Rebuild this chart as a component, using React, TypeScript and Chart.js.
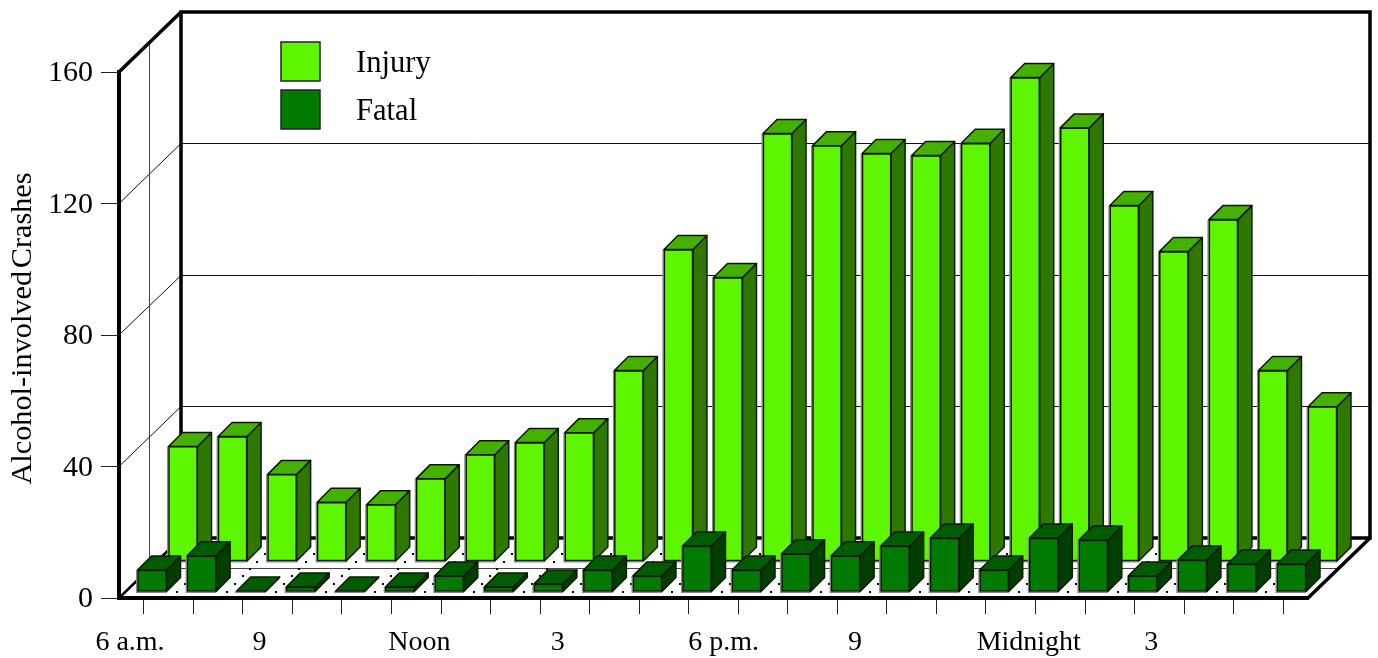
import React, { useEffect, useRef } from "react";
import { Chart, registerables } from "chart.js";

Chart.register(...registerables);

const hours = ["6 a.m.","7","8","9","10","11","Noon","1","2","3","4","5","6 p.m.","7 p.m.","8 p.m.","9 p.m.","10 p.m.","11 p.m.","Midnight","1 a.m.","2 a.m.","3 a.m.","4 a.m.","5 a.m."];
const tickLabels = ["6 a.m.","","","9","","","Noon","","","3","","","6 p.m.","","","9","","","Midnight","","","3","",""];
const injury = [35,38,26.5,18,17.3,25.2,32.5,36.2,39.2,58.1,94.9,86.4,130.2,126.5,124.1,123.5,127.2,147.2,131.9,108.3,94.3,104,58.1,47.1];
const fatal = [6.7,11,0.3,1.5,0.3,1.5,4.9,1.5,2.4,6.7,4.9,14,6.7,11.6,11,14,16.4,6.7,16.4,15.8,4.9,9.7,8.5,8.5];
const yTitle = "Alcohol-involved Crashes";

const FONT = "'Liberation Serif'";
const DEPTH = { x: 62, y: 60 };
const BAR_DEPTH = 14;
const LAYERS = [
  { dx: 39.25, dy: -36.5, top: "#44b000", side: "#2f7800" },
  { dx: 8.25, dy: -6, top: "#005c00", side: "#003e00" },
];
const LABEL_NUDGE: Record<number, number> = { 0: -13.75, 3: -33, 6: -21.75, 9: -32, 12: -14.75, 15: -32, 18: -6.75, 21: -33 };

const line = (ctx: CanvasRenderingContext2D, pts: number[][], width: number, color = "#000") => {
  ctx.beginPath();
  pts.forEach((p, i) => (i ? ctx.lineTo(p[0], p[1]) : ctx.moveTo(p[0], p[1])));
  ctx.lineWidth = width;
  ctx.strokeStyle = color;
  ctx.stroke();
};

const poly = (ctx: CanvasRenderingContext2D, pts: number[][], fill: string) => {
  ctx.beginPath();
  pts.forEach((p, i) => (i ? ctx.lineTo(p[0], p[1]) : ctx.moveTo(p[0], p[1])));
  ctx.closePath();
  ctx.fillStyle = fill;
  ctx.fill();
  ctx.lineWidth = 1.5;
  ctx.strokeStyle = "#0a1a00";
  ctx.lineJoin = "round";
  ctx.stroke();
};

const threeD = {
  id: "threeD",
  beforeDraw(chart: any) {
    if (chart.$nudged) return;
    chart.$nudged = true;
    chart.scales.x.getLabelItems(chart.chartArea).forEach((it: any, i: number) => {
      it.options.translation[0] += LABEL_NUDGE[i] || 0;
    });
    chart.scales.y.getLabelItems(chart.chartArea).forEach((it: any) => {
      it.options.translation[1] += 1.5;
    });
  },
  beforeDatasetsDraw(chart: any) {
    const { ctx, chartArea: a, scales } = chart;
    const { x: dx, y: dy } = DEPTH;
    const L = a.left, R = a.right, B = a.bottom, T = a.top;
    ctx.save();
    // left wall and back wall rules
    scales.y.ticks.forEach((t: any) => {
      if (t.value === 0 || t.value === scales.y.max) return;
      const py = scales.y.getPixelForValue(t.value);
      const by = Math.floor(py - dy) + 0.5;
      line(ctx, [[L, py], [L + dx, by], [R + dx, by]], 1, "#111");
    });
    // mid-depth rules
    const mx = L + dx / 2 - 0.5;
    line(ctx, [[mx, T - dy / 2], [mx, B - dy / 2 + 0.5], [R + dx / 2, B - dy / 2 + 0.5]], 1, "#444");
    // floor dots
    ctx.fillStyle = "#000";
    [591, 583, 575, 568, 561, 553, 545].forEach((y) => {
      for (let x = 176 + (591 - y); x < 1290; x += 49.5) ctx.fillRect(Math.round(x), y, 2, 2);
    });
    // frame
    line(ctx, [[L, B], [L + dx, B - dy]], 2.5);
    line(ctx, [[L, T], [L + dx, T - dy]], 3.5);
    line(ctx, [[L + dx, B - dy], [L + dx, T - dy], [R + dx, T - dy], [R + dx, B - dy], [L + dx, B - dy]], 3.5);
    line(ctx, [[R, B], [R + dx, B - dy]], 3.5);
    ctx.restore();
    // legend
    ctx.save();
    chart.data.datasets.forEach((ds: any, i: number) => {
      const y = 42 + i * 48;
      ctx.fillStyle = ds.backgroundColor;
      ctx.fillRect(281, y, 39, 39);
      ctx.lineWidth = 1.5;
      ctx.strokeStyle = "#222";
      ctx.strokeRect(281, y, 39, 39);
      ctx.fillStyle = "#000";
      ctx.font = `30.6px ${FONT}`;
      ctx.textBaseline = "alphabetic";
      ctx.fillText(ds.label, 356, y + 30);
    });
    ctx.restore();
  },
  beforeDatasetDraw(chart: any, args: any) {
    const { ctx } = chart;
    const layer = LAYERS[args.index];
    ctx.save();
    ctx.translate(layer.dx, layer.dy);
    const d = BAR_DEPTH;
    args.meta.data.forEach((el: any) => {
      const { x, y, base, width } = el.getProps(["x", "y", "base", "width"], true);
      const l = x - width / 2, r = x + width / 2;
      // soft edge on the left and below the front face
      ctx.fillStyle = "#888";
      ctx.fillRect(l - 1.5, y, width + 1.5, base - y + 1.5);
      poly(ctx, [[r, y], [r + d, y - d], [r + d, base - d], [r, base]], layer.side);
      poly(ctx, [[l, y], [l + d, y - d], [r + d, y - d], [r, y]], layer.top);
    });
  },
  afterDatasetDraw(chart: any) {
    chart.ctx.restore();
  },
};

export default function App() {
  const ref = useRef<HTMLCanvasElement>(null);
  useEffect(() => {
    const chart = new Chart(ref.current!, {
      type: "bar",
      data: {
        labels: hours,
        datasets: [
          { label: "Injury", data: injury, backgroundColor: "#5ef500", borderColor: "#0a1a00", borderWidth: 1.5, borderSkipped: false, barThickness: 29, grouped: false, order: 2, clip: false },
          { label: "Fatal", data: fatal, backgroundColor: "#007a00", borderColor: "#0a1a00", borderWidth: 1.5, borderSkipped: false, barThickness: 29, grouped: false, order: 1, clip: false },
        ],
      } as any,
      options: {
        responsive: false,
        animation: false,
        events: [],
        layout: { padding: { left: 0, top: 72, right: 70, bottom: 0 } },
        plugins: { legend: { display: false }, tooltip: { enabled: false } },
        scales: {
          x: {
            type: "category",
            afterFit(s: any) { s.height = 60; },
            grid: { offset: false, drawOnChartArea: false, tickLength: 16, color: "#222", lineWidth: 1 },
            border: { display: true, width: 4, color: "#000" },
            ticks: {
              autoSkip: false, maxRotation: 0, minRotation: 0, padding: 12,
              color: "#000", font: { family: FONT, size: 28 },
              callback: (_v: any, i: number) => tickLabels[i],
            },
          },
          y: {
            min: 0, max: 160,
            afterFit(s: any) {
              s.width = 119;
              if (!s.$wrapped) {
                s.$wrapped = true;
                const orig = s.drawTitle;
                s.drawTitle = function (...a: any[]) {
                  const c = s.ctx;
                  c.save();
                  c.wordSpacing = "-5px";
                  c.translate(0, -6.5);
                  orig.apply(s, a);
                  c.restore();
                };
              }
            },
            grid: { drawOnChartArea: false, tickLength: 18, color: "#222", lineWidth: 1 },
            border: { display: true, width: 4, color: "#000" },
            ticks: { stepSize: 40, padding: 8, color: "#000", font: { family: FONT, size: 30 } },
            title: { display: true, text: yTitle, color: "#000", font: { family: FONT, size: 30.3 }, padding: { top: 5, bottom: 0 } },
          },
        },
      } as any,
      plugins: [threeD],
    });
    return () => chart.destroy();
  }, []);
  return (
    <div style={{ position: "absolute", left: 0, top: 0, width: 1378, height: 658, background: "#fff" }}>
      <canvas ref={ref} width={1378} height={658} style={{ display: "block" }} />
    </div>
  );
}
